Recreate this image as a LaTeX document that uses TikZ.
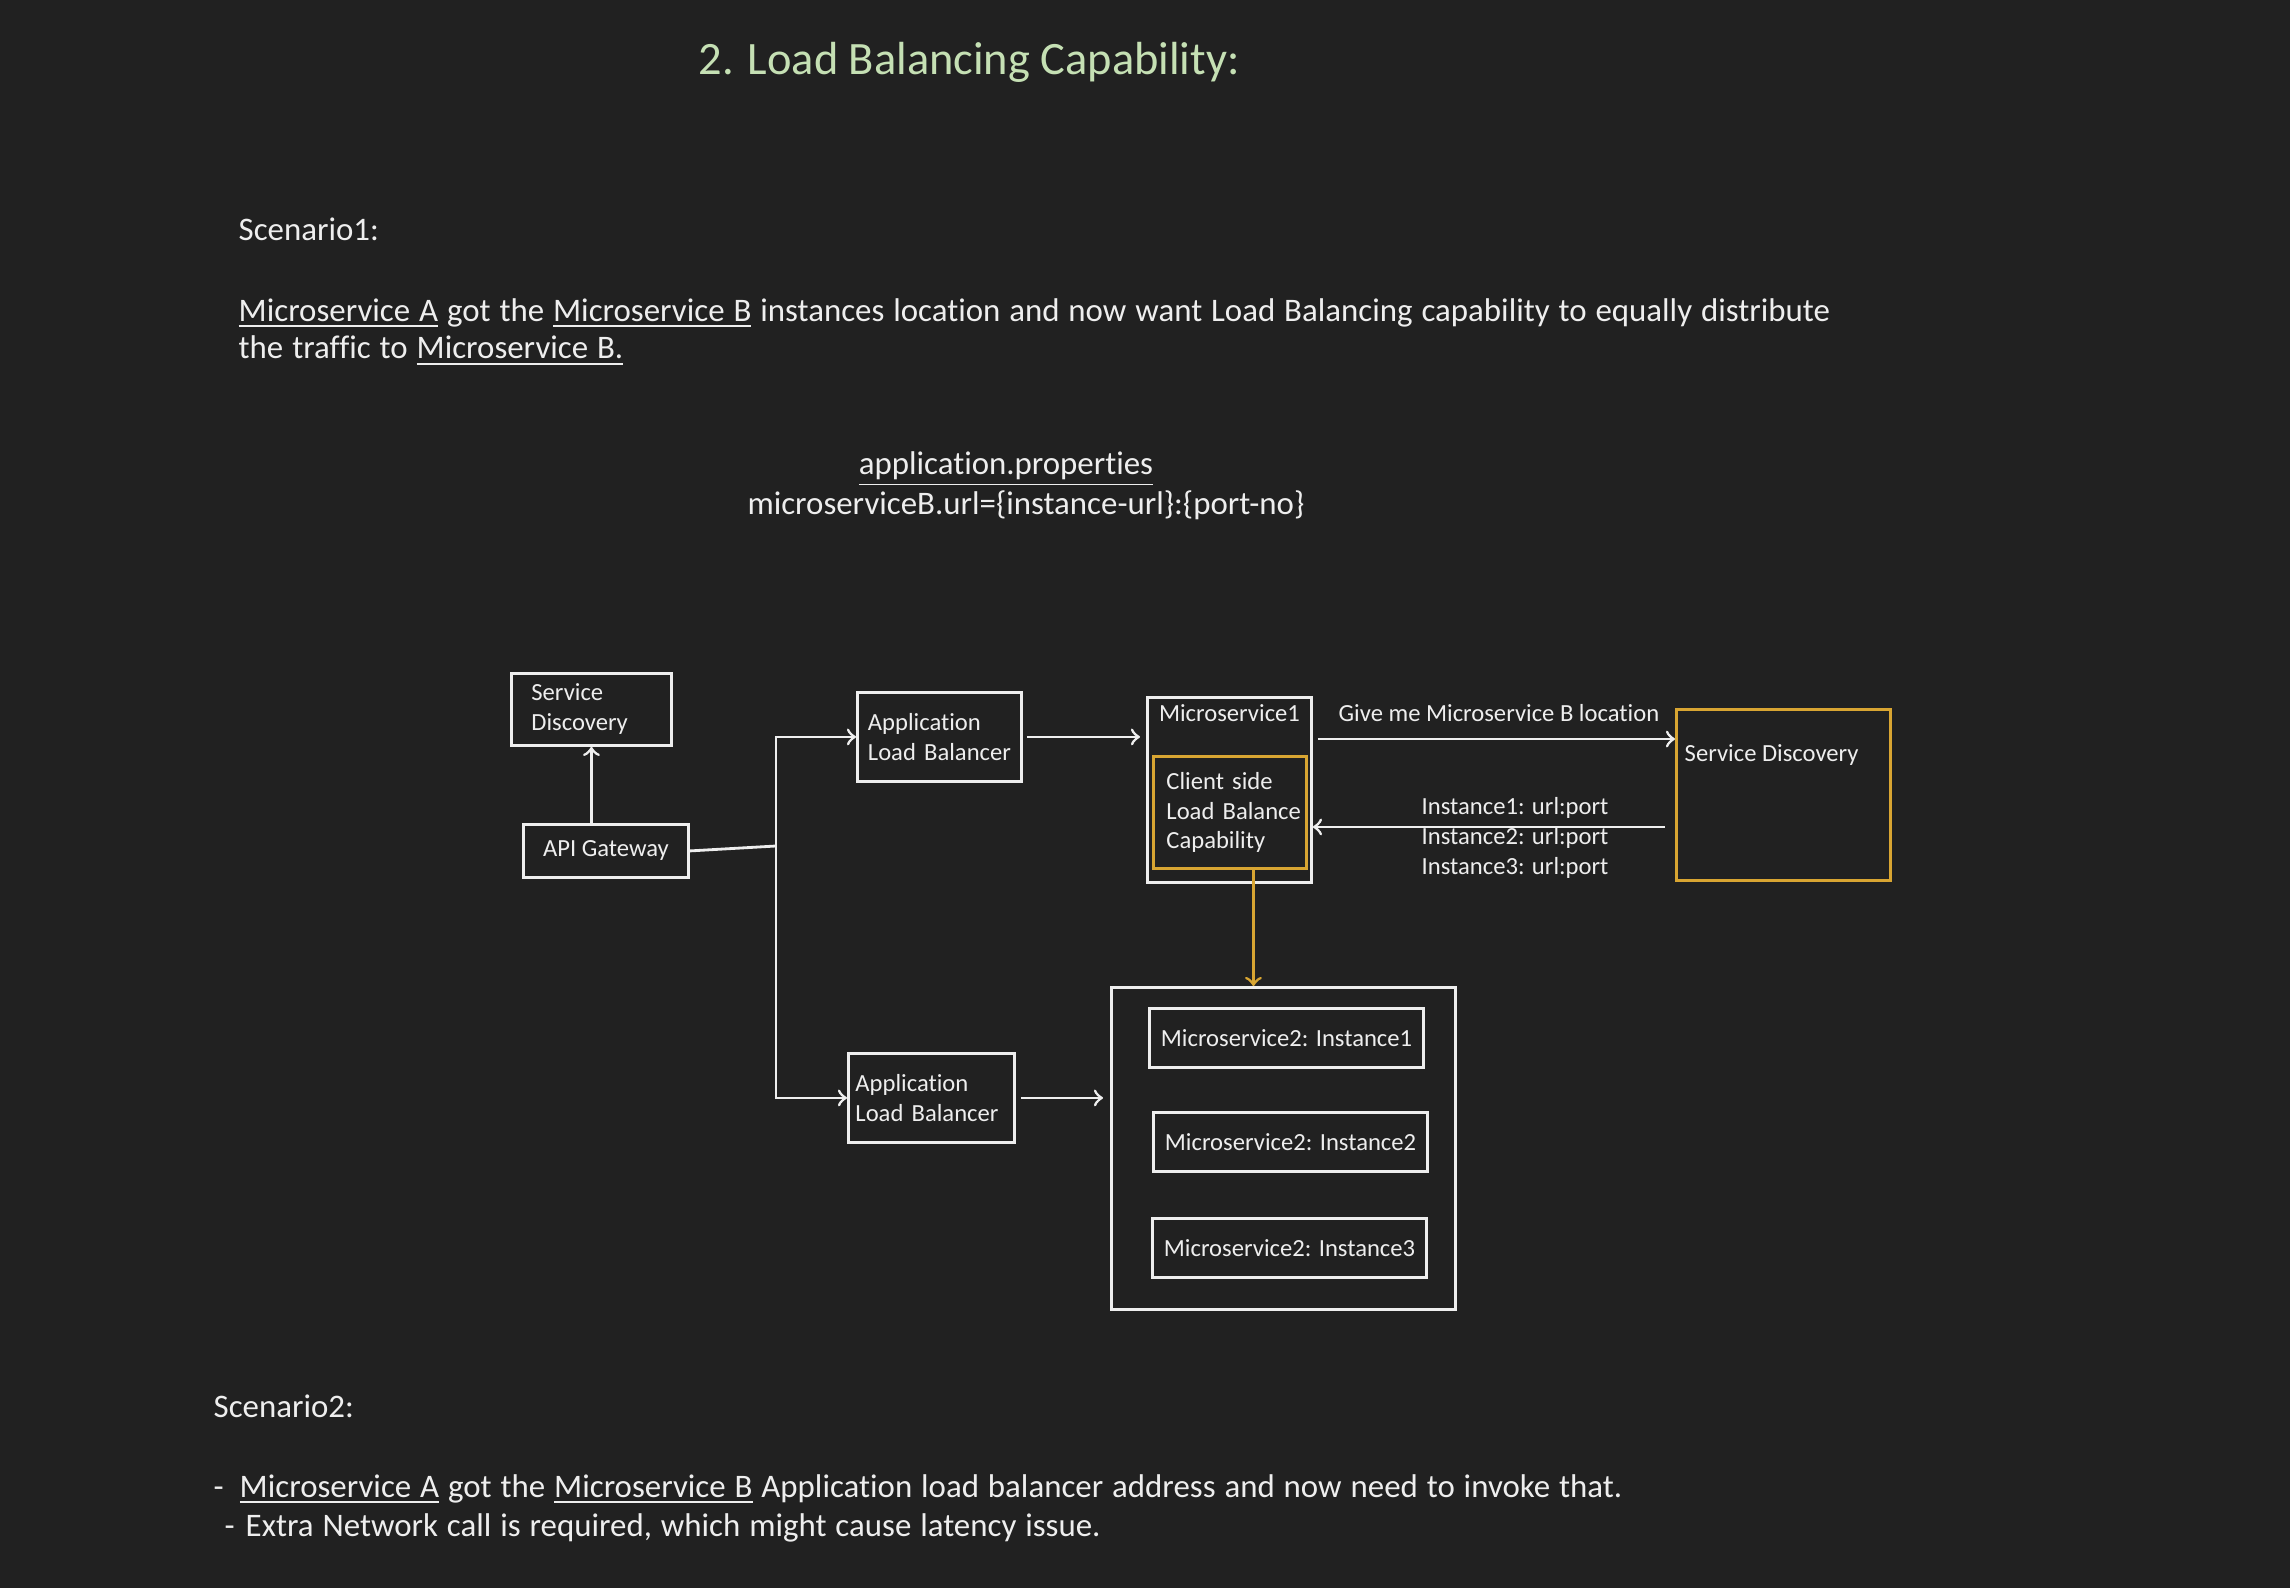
\documentclass[tikz,border=0pt]{standalone}
\usepackage{fontspec}
\setmainfont{Carlito}[Ligatures={NoCommon}]
\newfontfamily\bodyfam{Carlito}[Ligatures={NoCommon}, WordSpace=1.2]
\usepackage{tikz}
\usetikzlibrary{positioning}

\definecolor{bg}{HTML}{212121}
\definecolor{fg}{HTML}{EEEEEE}
\definecolor{gold}{HTML}{D8A532}
\definecolor{titlegreen}{HTML}{C5E0B4}

\newcommand{\headsize}{\fontsize{13.2}{16}\selectfont}
\newcommand{\bodysize}{\bodyfam\fontsize{9.35}{11.1}\selectfont}
\newcommand{\diagsize}{\fontsize{7}{8.5}\selectfont}
\hyphenpenalty=10000
\exhyphenpenalty=10000

\begin{document}
\begin{tikzpicture}[x=0.01cm,y=-0.01cm,
        every node/.style={text=fg, inner sep=0pt},
        box/.style={draw=fg, line width=0.8pt, font=\diagsize, anchor=north west},
        goldbox/.style={box, draw=gold},
        textbox/.style={box, align=left},
        link/.style={draw=fg, line width=0.8pt, ->},
        goldlink/.style={link, draw=gold},
        body/.style={anchor=base west, font=\bodysize},
        lbl/.style={anchor=base west, font=\diagsize}]

        \fill[bg] (0,0) rectangle (2290,1588);
        \useasboundingbox (0,0) rectangle (2290,1588);

        \node[anchor=base west, font=\headsize, text=titlegreen] (title) at (698,75) {2. Load Balancing Capability:};

        \node[body] (scen1) at (238,241) {Scenario1:};
        \node[body] (scen1a) at (238,321) {\underline{Microservice A} got the \underline{Microservice B} instances location and now want Load Balancing capability to equally distribute};
        \node[body] (scen1b) at (238,359) {the traffic to \underline{Microservice B.}};

        \node[anchor=base, font=\bodysize] (props) at (1006,474) {\underline{application.properties}};
        \node[anchor=base, font=\bodysize] (propurl) at (1026,514) {microserviceB.url=\{instance-url\}:\{port-no\}};

        \node[textbox, inner xsep=0.2cm, text width=1.2cm, minimum height=0.72cm] (sd1) at (510,672) {Service\\Discovery};
        \node[box, minimum width=1.65cm, minimum height=0.53cm] (api) at (522,823) {API Gateway};
        \node[textbox, inner xsep=0.105cm, text width=1.43cm, minimum height=0.89cm] (alb1) at (856,691) {Application\\Load Balancer};
        \node[textbox, inner xsep=0.07cm, text width=1.52cm, minimum height=0.89cm] (alb2) at (847,1052) {Application\\Load Balancer};

        \node[box, minimum width=1.64cm, minimum height=1.85cm] (ms1) at (1146,696) {};
        \node[anchor=base, font=\diagsize] (ms1lbl) at ([yshift=-0.25cm]ms1.north) {Microservice1};
        \node[goldbox, align=left, inner xsep=0.13cm, text width=1.27cm, minimum height=1.12cm] (clb) at (1152,755) {Client side\\Load~Balance\\Capability};

        \node[goldbox, minimum width=2.14cm, minimum height=1.71cm] (sd2) at (1675,708) {};
        \node[lbl] (sd2lbl) at ([xshift=0.09cm, yshift=-0.53cm]sd2.north west) {Service Discovery};

        \node[box, minimum width=3.44cm, minimum height=3.22cm] (pool) at (1110,986) {};
        \foreach \i/\x/\y in {1/1148/1007, 2/1152/1111, 3/1151/1217}
        {
          \node[box, minimum width=2.74cm, minimum height=0.59cm] (inst\i) at (\x,\y) {Microservice2: Instance\i};
        }

        \draw[link] (sd1.south |- api.north) -- (sd1.south);
        \coordinate (split) at (776,846);
        \draw[fg, line width=0.8pt] (api.east) -- (split);
        \draw[link] (split) |- (alb1.west);
        \draw[link] (split) |- (alb2.west);
        \draw[link, shorten <=0.04cm, shorten >=0.06cm] (alb1.east) -- (alb1.east -| ms1.west);
        \draw[link, shorten <=0.05cm, shorten >=0.07cm] (alb2.east) -- (alb2.east -| pool.west);

        \coordinate (ask) at ([yshift=-0.43cm]ms1.north east);
        \draw[link, shorten <=0.05cm] (ask) -- (ask -| sd2.west);
        \node[lbl] (asklbl) at (1338,721) {Give me Microservice B location};

        \coordinate (reply) at ([xshift=-0.1cm, yshift=-0.32cm]sd2.west);
        \draw[link] (reply) -- (reply -| ms1.east);
        \foreach \i/\y in {1/814, 2/844, 3/874}
        {
          \node[lbl] (url\i) at (1421,\y) {Instance\i: url:port};
        }

        \coordinate (drop) at ([xshift=0.235cm]clb.south);
        \draw[goldlink] (drop) -- (drop |- pool.north);

        \node[body] (scen2) at (213,1417) {Scenario2:};
        \node[body] (scen2a) at (213,1497) {-\hspace{0.16cm}\underline{Microservice A} got the \underline{Microservice B} Application load balancer address and now need to invoke that.};
        \node[body] (scen2b) at (224,1536) {-\hspace{0.11cm}Extra Network call is required, which might cause latency issue.};
      \end{tikzpicture}
\end{document}
